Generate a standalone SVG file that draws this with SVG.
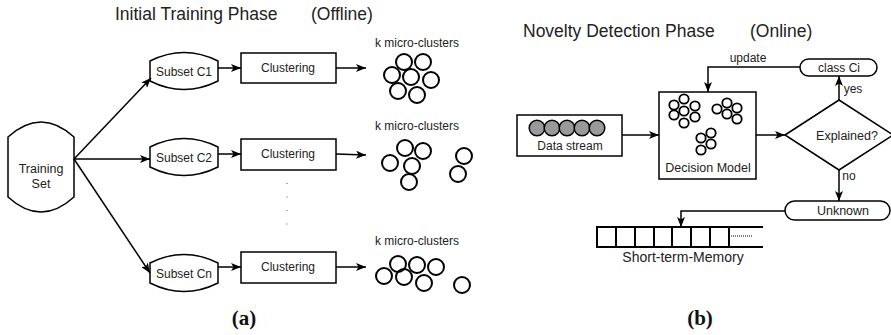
<svg xmlns="http://www.w3.org/2000/svg" width="891" height="335" viewBox="0 0 891 335">
<defs>
<marker id="ah" viewBox="0 0 10 8" refX="10" refY="4" markerWidth="11" markerHeight="8" markerUnits="userSpaceOnUse" orient="auto"><path d="M0,0 L10,4 L0,8 L2.5,4 Z" fill="#000"/></marker>
</defs>
<style>
text{font-family:"Liberation Sans",Arial,sans-serif;fill:#222;text-anchor:middle}
.title{font-size:17.5px;text-anchor:start}
.lbl{font-size:12.5px}
.sm{font-size:12px}
.cap{font-family:"Liberation Serif","Times New Roman",serif;font-size:21px;font-weight:bold;fill:#111}
.shape{fill:#fff;stroke:#000;stroke-width:1.5}
.c{fill:none;stroke:#000;stroke-width:2}
.cs{fill:none;stroke:#000;stroke-width:1.8}
.g{fill:#999;stroke:#000;stroke-width:1.5}
.edge{fill:none;stroke:#000;stroke-width:1.5;marker-end:url(#ah)}
.cell{fill:#fff;stroke:#000;stroke-width:2}
</style>

<!-- Titles -->
<text class="title" x="115" y="20">Initial Training Phase</text>
<text class="title" x="311" y="20">(Offline)</text>
<text class="title" x="523" y="37">Novelty Detection Phase</text>
<text class="title" x="750" y="37">(Online)</text>

<!-- (a) nodes -->
<g id="training-set">
<path class="shape" d="M8,137 Q41,107 74,137 L74,197 Q41,227 8,197 Z"/>
<text class="lbl" x="41" y="173">Training</text>
<text class="lbl" x="41" y="188">Set</text>
</g>
<g id="subset-c1">
<path class="shape" d="M150,61 Q184,44 218,61 L218,81 Q184,98 150,81 Z"/>
<text class="sm" x="184" y="76">Subset C1</text>
</g>
<g id="subset-c2">
<path class="shape" d="M150,147 Q184,130 218,147 L218,167 Q184,184 150,167 Z"/>
<text class="sm" x="184" y="162">Subset C2</text>
</g>
<g id="subset-cn">
<path class="shape" d="M150,263 Q184,246 218,263 L218,283 Q184,300 150,283 Z"/>
<text class="sm" x="184" y="278">Subset Cn</text>
</g>
<g id="clustering-1">
<rect class="shape" x="241" y="53" width="95" height="30"/>
<text class="sm" x="288" y="72">Clustering</text>
</g>
<g id="clustering-2">
<rect class="shape" x="241" y="139" width="95" height="31"/>
<text class="sm" x="288" y="158">Clustering</text>
</g>
<g id="clustering-n">
<rect class="shape" x="241" y="252" width="95" height="31"/>
<text class="sm" x="288" y="271">Clustering</text>
</g>
<g id="dots">
<line x1="287" y1="183" x2="287" y2="237" stroke="#555" stroke-width="1" stroke-dasharray="1,12.5"/>
</g>
<g id="micro-clusters-1">
<text class="sm" x="417" y="47">k micro-clusters</text>
<circle class="c" cx="404" cy="62" r="8"/>
<circle class="c" cx="423" cy="62" r="8"/>
<circle class="c" cx="392" cy="75" r="8"/>
<circle class="c" cx="411" cy="77" r="8"/>
<circle class="c" cx="431" cy="80" r="8"/>
<circle class="c" cx="398" cy="91" r="8"/>
<circle class="c" cx="417" cy="95" r="8"/>
</g>
<g id="micro-clusters-2">
<text class="sm" x="417" y="130">k micro-clusters</text>
<circle class="c" cx="405" cy="148" r="8"/>
<circle class="c" cx="423" cy="151" r="8"/>
<circle class="c" cx="390" cy="163" r="8"/>
<circle class="c" cx="412" cy="166" r="8"/>
<circle class="c" cx="409" cy="182" r="8"/>
<circle class="c" cx="464" cy="156" r="8"/>
<circle class="c" cx="458" cy="174" r="8"/>
</g>
<g id="micro-clusters-n">
<text class="sm" x="417" y="245">k micro-clusters</text>
<circle class="c" cx="398" cy="264" r="8"/>
<circle class="c" cx="417" cy="265" r="8"/>
<circle class="c" cx="436" cy="267" r="8"/>
<circle class="c" cx="384" cy="276" r="8"/>
<circle class="c" cx="404" cy="277" r="8"/>
<circle class="c" cx="424" cy="283" r="8"/>
<circle class="c" cx="462" cy="285" r="8"/>
</g>
<text class="cap" x="244" y="325">(a)</text>

<!-- (b) nodes -->
<g id="data-stream">
<rect class="shape" x="517" y="115" width="105" height="41"/>
<circle class="g" cx="537" cy="128" r="7.8"/>
<circle class="g" cx="552" cy="128" r="7.8"/>
<circle class="g" cx="567" cy="128" r="7.8"/>
<circle class="g" cx="582" cy="128" r="7.8"/>
<circle class="g" cx="597" cy="128" r="7.8"/>
<text class="sm" x="570" y="150">Data stream</text>
</g>
<g id="decision-model">
<rect class="shape" x="659" y="92" width="97" height="87"/>
<circle class="cs" cx="684" cy="99" r="4.7"/>
<circle class="cs" cx="674" cy="105" r="4.7"/>
<circle class="cs" cx="695" cy="106" r="4.7"/>
<circle class="cs" cx="684" cy="111" r="4.7"/>
<circle class="cs" cx="674" cy="115" r="4.7"/>
<circle class="cs" cx="695" cy="117" r="4.7"/>
<circle class="cs" cx="684" cy="123" r="4.7"/>
<circle class="cs" cx="727" cy="103" r="4.7"/>
<circle class="cs" cx="717" cy="109" r="4.7"/>
<circle class="cs" cx="737" cy="108" r="4.7"/>
<circle class="cs" cx="727" cy="114" r="4.7"/>
<circle class="cs" cx="737" cy="119" r="4.7"/>
<circle class="cs" cx="711" cy="133" r="4.7"/>
<circle class="cs" cx="701" cy="138" r="4.7"/>
<circle class="cs" cx="711" cy="144" r="4.7"/>
<circle class="cs" cx="701" cy="150" r="4.7"/>
<text class="lbl" x="708" y="172">Decision Model</text>
</g>
<g id="explained">
<polygon class="shape" points="785,135 839,100 893,135 839,170"/>
<text class="lbl" x="847" y="140">Explained?</text>
</g>
<g id="class-ci">
<rect class="shape" x="800" y="59" width="77" height="17" rx="8.5"/>
<text class="sm" x="839" y="72">class Ci</text>
</g>
<g id="unknown">
<rect class="shape" x="785" y="201" width="105" height="19" rx="9.5"/>
<text class="lbl" x="843" y="215">Unknown</text>
</g>
<g id="short-term-memory">
<path fill="none" stroke="#000" stroke-width="2" d="M763,227 H597 V247 H763"/>
<path fill="none" stroke="#000" stroke-width="2" d="M616,227 V247 M635,227 V247 M654,227 V247 M672,227 V247 M691,227 V247 M710,227 V247 M729,227 V247"/>
<line x1="731" y1="236" x2="753" y2="236" stroke="#000" stroke-width="1" stroke-dasharray="1,1"/>
<text style="font-size:14px" x="683" y="262">Short-term-Memory</text>
</g>
<text class="cap" x="700" y="325">(b)</text>

<!-- connectors -->
<g id="connectors">
<line class="edge" x1="74" y1="159" x2="151" y2="78"/>
<line class="edge" x1="74" y1="159" x2="150" y2="159"/>
<line class="edge" x1="74" y1="159" x2="150" y2="273"/>
<line class="edge" x1="218" y1="68" x2="241" y2="68"/>
<line class="edge" x1="218" y1="154" x2="241" y2="154"/>
<line class="edge" x1="218" y1="267" x2="241" y2="267"/>
<line class="edge" x1="336" y1="68" x2="366" y2="68"/>
<line class="edge" x1="336" y1="154" x2="366" y2="155"/>
<line class="edge" x1="336" y1="267" x2="366" y2="267"/>
<line class="edge" x1="622" y1="135" x2="659" y2="135"/>
<line class="edge" x1="756" y1="135" x2="785" y2="135"/>
<line class="edge" x1="839" y1="100" x2="839" y2="76"/>
<path class="edge" d="M800,67 H708 V92"/>
<line class="edge" x1="839" y1="170" x2="839" y2="201"/>
<path class="edge" d="M785,211 H681 V227"/>
<text class="sm" x="748" y="62">update</text>
<text class="sm" x="853" y="93">yes</text>
<text class="sm" x="849" y="180">no</text>
</g>
</svg>
